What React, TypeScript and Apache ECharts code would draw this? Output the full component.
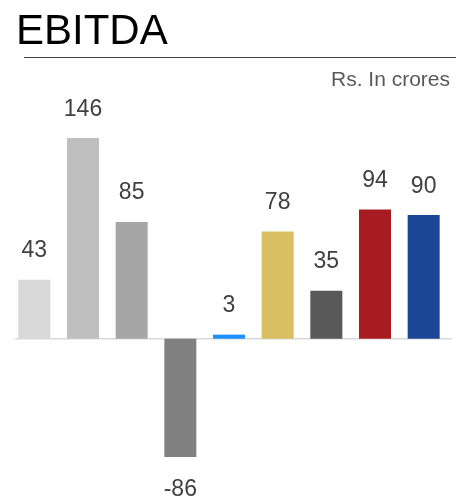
import React, { useEffect, useRef } from "react";
import * as echarts from "echarts";

const categories = ["A", "B", "C", "D", "E", "F", "G", "H", "I"];
const values = [43, 146, 85, -86, 3, 78, 35, 94, 90];
const colors = ["#d9d9d9", "#bfbfbf", "#a6a6a6", "#808080", "#1e90ff", "#d9bf62", "#595959", "#a81b21", "#1c4796"];
const titleText = "EBITDA";
const unitText = "Rs. In crores";

const FONT = "'Liberation Sans', Arial, sans-serif";

export default function App() {
  const ref = useRef<HTMLDivElement>(null);
  useEffect(() => {
    document.body.style.margin = "0";
    const chart = echarts.init(ref.current!, undefined, { renderer: "svg" });
    const option: any = {
      animation: false,
      title: [
        { text: titleText, left: 11, top: 3, textStyle: { fontFamily: FONT, fontSize: 42, fontWeight: "normal", color: "#000" } },
        { text: unitText, right: 1, top: 63, textStyle: { fontFamily: FONT, fontSize: 21, fontWeight: "normal", color: "#595959" } },
      ],
      grid: { left: 10, right: 8, top: 132.5, bottom: 38.5, containLabel: false },
      xAxis: {
        type: "category",
        data: categories,
        axisLine: { show: false },
        axisTick: { show: false },
        axisLabel: { show: false },
      },
      yAxis: {
        type: "value",
        min: -90,
        max: 150,
        show: false,
        splitLine: { show: false },
      },
      series: [
        {
          type: "bar",
          barWidth: 32,
          data: values.map((v, i) => ({
            value: v,
            itemStyle: { color: colors[i] },
            label: v < 0 ? { position: "bottom", distance: 19 } : undefined,
          })),
          label: {
            show: true,
            position: "top",
            distance: 19,
            fontFamily: FONT,
            fontSize: 23,
            color: "#404040",
          },
        },
      ],
    };
    chart.setOption(option);
    const zeroY = chart.convertToPixel({ yAxisIndex: 0 }, 0) as number;
    chart.setOption({
      graphic: [
        { type: "line", shape: { x1: 24, y1: 57.5, x2: 456, y2: 57.5 }, style: { stroke: "#404040", lineWidth: 1 } },
        { type: "line", shape: { x1: 15, y1: zeroY, x2: 452, y2: zeroY }, style: { stroke: "#d9d9d9", lineWidth: 1.5 }, z: -1 },
      ],
    });
    return () => chart.dispose();
  }, []);
  return <div ref={ref} style={{ width: 456, height: 501, position: "fixed", left: 0, top: 0 }} />;
}
